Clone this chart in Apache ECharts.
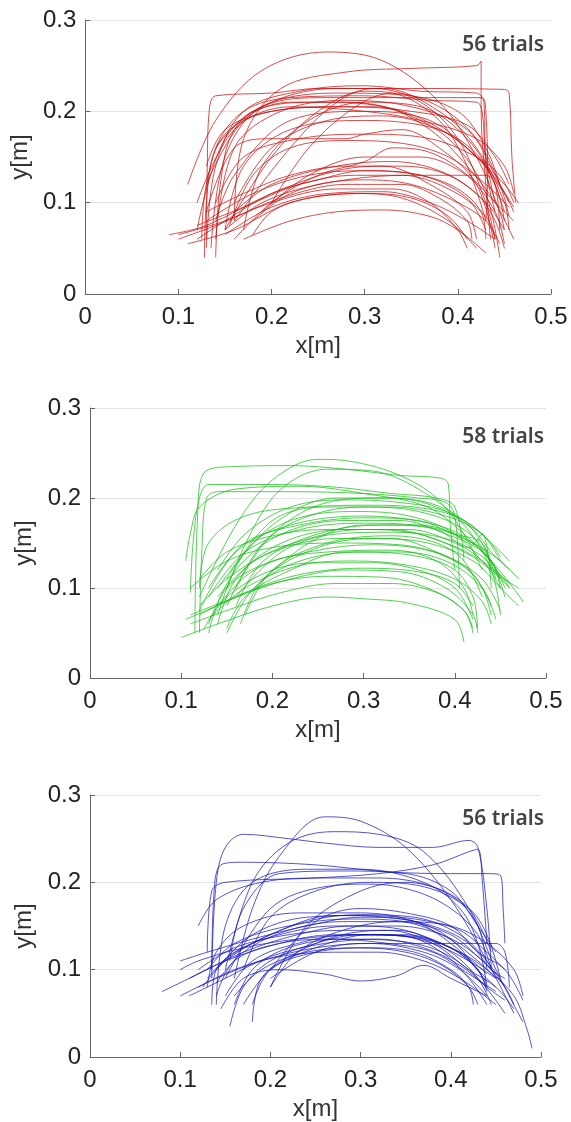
<!DOCTYPE html>
<html><head><meta charset="utf-8">
<script src="https://cdn.jsdelivr.net/npm/echarts@6/dist/echarts.min.js"></script>
<style>html,body{margin:0;padding:0;background:#fff}#c{width:571px;height:1122px}</style>
</head><body><div id="c"></div>
<script>
const xTicks = [0, 0.1, 0.2, 0.3, 0.4, 0.5];
const yTicks = [0, 0.1, 0.2, 0.3];
const panelLabels = ["56 trials", "58 trials", "56 trials"];

const redTrials = [
 [[0.13,0.06],[0.131,0.14],[0.133,0.20],[0.14,0.217],[0.2,0.22],[0.25,0.225],[0.35,0.225],[0.45,0.224],[0.455,0.22],[0.458,0.15],[0.462,0.10]],
 [[0.11,0.12],[0.14,0.19],[0.19,0.245],[0.26,0.265],[0.32,0.255],[0.38,0.21],[0.42,0.15],[0.445,0.09],[0.45,0.07]],
 [[0.16,0.08],[0.17,0.17],[0.21,0.225],[0.28,0.243],[0.35,0.247],[0.42,0.25],[0.425,0.255],[0.425,0.20],[0.43,0.12],[0.435,0.06]],
 [[0.13,0.05],[0.14,0.14],[0.17,0.20],[0.23,0.222],[0.3,0.228],[0.36,0.222],[0.42,0.22],[0.428,0.21],[0.43,0.14],[0.44,0.09]],
 [[0.12,0.07],[0.15,0.17],[0.2,0.21],[0.27,0.225],[0.32,0.225],[0.38,0.2],[0.42,0.16],[0.45,0.1],[0.455,0.07]],
 [[0.135,0.05],[0.15,0.15],[0.19,0.205],[0.26,0.215],[0.33,0.215],[0.425,0.215],[0.43,0.2],[0.432,0.12],[0.43,0.08]],
 [[0.14,0.06],[0.16,0.16],[0.21,0.2],[0.28,0.212],[0.35,0.205],[0.41,0.18],[0.44,0.13],[0.455,0.1]],
 [[0.12,0.10],[0.16,0.18],[0.22,0.205],[0.3,0.2],[0.36,0.19],[0.42,0.17],[0.45,0.14],[0.46,0.11]],
 [[0.13,0.09],[0.16,0.16],[0.2,0.17],[0.28,0.17],[0.3,0.175],[0.34,0.18],[0.38,0.16],[0.42,0.12],[0.44,0.05]],
 [[0.15,0.07],[0.17,0.14],[0.22,0.18],[0.3,0.19],[0.36,0.185],[0.4,0.17],[0.43,0.14],[0.45,0.09]],
 [[0.15,0.07],[0.2,0.15],[0.25,0.2],[0.3,0.222],[0.33,0.22],[0.38,0.19],[0.41,0.14],[0.43,0.08]],
 [[0.16,0.08],[0.22,0.16],[0.27,0.21],[0.31,0.225],[0.36,0.21],[0.4,0.17],[0.43,0.1],[0.44,0.06]],
 [[0.13,0.12],[0.17,0.19],[0.22,0.21],[0.28,0.21],[0.34,0.2],[0.39,0.175],[0.43,0.14],[0.46,0.095]],
 [[0.14,0.08],[0.16,0.13],[0.22,0.19],[0.3,0.2],[0.37,0.19],[0.42,0.15],[0.45,0.12],[0.465,0.1]],
 [[0.09,0.065],[0.13,0.075],[0.2,0.11],[0.27,0.135],[0.32,0.14],[0.37,0.12],[0.41,0.09],[0.42,0.06]],
 [[0.1,0.06],[0.14,0.075],[0.2,0.1],[0.27,0.115],[0.33,0.115],[0.37,0.1],[0.4,0.07],[0.41,0.05]],
 [[0.11,0.055],[0.16,0.07],[0.22,0.1],[0.29,0.11],[0.34,0.105],[0.39,0.08],[0.42,0.05]],
 [[0.17,0.06],[0.22,0.08],[0.27,0.09],[0.32,0.092],[0.37,0.085],[0.4,0.07],[0.43,0.045]],
 [[0.15,0.07],[0.19,0.1],[0.25,0.12],[0.3,0.125],[0.35,0.12],[0.4,0.1],[0.43,0.08],[0.445,0.055]],
 [[0.16,0.09],[0.2,0.12],[0.27,0.14],[0.33,0.145],[0.38,0.135],[0.42,0.11],[0.44,0.08],[0.45,0.05]],
 [[0.12,0.075],[0.17,0.095],[0.23,0.12],[0.29,0.13],[0.34,0.13],[0.39,0.115],[0.43,0.085],[0.44,0.06]],
 [[0.16,0.06],[0.2,0.1],[0.25,0.13],[0.3,0.145],[0.33,0.16],[0.37,0.155],[0.41,0.13],[0.44,0.09],[0.45,0.055]],
 [[0.18,0.065],[0.2,0.09],[0.24,0.105],[0.3,0.11],[0.35,0.105],[0.39,0.085],[0.41,0.06]],
 [[0.13,0.09],[0.17,0.11],[0.22,0.13],[0.28,0.14],[0.34,0.14],[0.39,0.13],[0.43,0.1],[0.45,0.07]],
 [[0.12,0.06],[0.15,0.08],[0.2,0.11],[0.25,0.125],[0.3,0.135],[0.36,0.13],[0.41,0.105],[0.43,0.07]],
 [[0.14,0.16],[0.18,0.2],[0.25,0.21],[0.32,0.205],[0.37,0.18],[0.41,0.14],[0.44,0.1],[0.46,0.06]],
 [[0.13,0.14],[0.15,0.18],[0.2,0.2],[0.27,0.205],[0.31,0.205],[0.36,0.19],[0.4,0.16],[0.43,0.11],[0.445,0.04]],
 [[0.155,0.075],[0.18,0.13],[0.22,0.16],[0.28,0.168],[0.34,0.165],[0.39,0.15],[0.43,0.12],[0.455,0.095]],
 [[0.18,0.08],[0.22,0.11],[0.28,0.125],[0.35,0.13],[0.4,0.13],[0.43,0.13],[0.44,0.12],[0.445,0.07]],
 [[0.14,0.04],[0.145,0.12],[0.16,0.18],[0.2,0.21],[0.27,0.22],[0.34,0.218],[0.4,0.2],[0.43,0.16],[0.445,0.12]],
 [[0.125,0.06],[0.13,0.12],[0.15,0.175],[0.2,0.2],[0.28,0.205],[0.35,0.2],[0.41,0.185],[0.44,0.15],[0.455,0.12]],
 [[0.17,0.07],[0.19,0.14],[0.24,0.19],[0.3,0.21],[0.36,0.205],[0.41,0.17],[0.44,0.12],[0.45,0.08]],
 [[0.14,0.1],[0.17,0.15],[0.23,0.17],[0.3,0.175],[0.37,0.17],[0.42,0.15],[0.445,0.13],[0.46,0.1]],
 [[0.1,0.065],[0.15,0.08],[0.21,0.105],[0.28,0.12],[0.34,0.12],[0.38,0.105],[0.41,0.08],[0.415,0.06]],
 [[0.13,0.08],[0.18,0.11],[0.24,0.13],[0.3,0.135],[0.36,0.13],[0.4,0.115],[0.425,0.09],[0.43,0.06]],
 [[0.15,0.065],[0.2,0.095],[0.26,0.11],[0.32,0.112],[0.37,0.1],[0.41,0.08],[0.44,0.06]],
 [[0.19,0.09],[0.24,0.13],[0.3,0.15],[0.36,0.15],[0.41,0.13],[0.44,0.1],[0.46,0.08]],
 [[0.16,0.1],[0.2,0.16],[0.26,0.19],[0.32,0.195],[0.38,0.18],[0.42,0.15],[0.45,0.11],[0.46,0.09]],
 [[0.128,0.04],[0.13,0.1],[0.14,0.16],[0.17,0.2],[0.22,0.215],[0.3,0.217],[0.37,0.212],[0.42,0.21],[0.426,0.2],[0.43,0.15],[0.44,0.1]],
 [[0.2,0.1],[0.24,0.16],[0.29,0.205],[0.33,0.22],[0.38,0.205],[0.42,0.17],[0.445,0.12],[0.455,0.085]]
];

const greenTrials = [
 [[0.115,0.05],[0.118,0.18],[0.125,0.228],[0.16,0.235],[0.22,0.236],[0.28,0.232],[0.34,0.225],[0.385,0.222],[0.393,0.215],[0.395,0.17],[0.4,0.12]],
 [[0.12,0.09],[0.16,0.17],[0.2,0.22],[0.25,0.243],[0.29,0.24],[0.34,0.225],[0.38,0.2],[0.41,0.16],[0.43,0.12]],
 [[0.11,0.095],[0.113,0.15],[0.12,0.2],[0.13,0.215],[0.2,0.215],[0.27,0.212],[0.33,0.205],[0.38,0.2],[0.4,0.19],[0.41,0.13]],
 [[0.12,0.05],[0.123,0.15],[0.128,0.2],[0.14,0.207],[0.22,0.207],[0.3,0.205],[0.36,0.2],[0.39,0.195],[0.4,0.18],[0.405,0.1]],
 [[0.15,0.1],[0.2,0.2],[0.26,0.232],[0.31,0.23],[0.36,0.21],[0.41,0.17],[0.44,0.12],[0.45,0.07]],
 [[0.105,0.13],[0.11,0.16],[0.12,0.19],[0.16,0.21],[0.23,0.213],[0.3,0.205],[0.37,0.19],[0.41,0.16],[0.44,0.13],[0.455,0.1]],
 [[0.14,0.07],[0.17,0.14],[0.22,0.175],[0.29,0.185],[0.35,0.18],[0.4,0.16],[0.44,0.12],[0.47,0.1]],
 [[0.13,0.06],[0.16,0.12],[0.21,0.16],[0.28,0.175],[0.34,0.175],[0.39,0.16],[0.43,0.14],[0.475,0.085]],
 [[0.15,0.08],[0.19,0.15],[0.24,0.18],[0.3,0.19],[0.36,0.185],[0.41,0.165],[0.44,0.13],[0.455,0.09]],
 [[0.12,0.075],[0.16,0.14],[0.22,0.17],[0.3,0.18],[0.38,0.17],[0.42,0.15],[0.45,0.115],[0.46,0.1]],
 [[0.16,0.1],[0.2,0.16],[0.26,0.195],[0.32,0.2],[0.37,0.195],[0.41,0.175],[0.435,0.14],[0.445,0.11]],
 [[0.14,0.09],[0.18,0.13],[0.24,0.155],[0.3,0.165],[0.36,0.16],[0.41,0.14],[0.44,0.12],[0.46,0.1]],
 [[0.12,0.08],[0.15,0.11],[0.2,0.14],[0.27,0.155],[0.33,0.155],[0.38,0.14],[0.42,0.115],[0.44,0.08]],
 [[0.13,0.065],[0.17,0.1],[0.23,0.125],[0.29,0.13],[0.35,0.125],[0.4,0.11],[0.43,0.085],[0.44,0.06]],
 [[0.105,0.065],[0.15,0.085],[0.2,0.105],[0.26,0.113],[0.32,0.112],[0.37,0.1],[0.41,0.075],[0.42,0.05]],
 [[0.1,0.045],[0.14,0.06],[0.2,0.08],[0.26,0.09],[0.3,0.088],[0.35,0.083],[0.4,0.065],[0.41,0.04]],
 [[0.11,0.07],[0.16,0.09],[0.22,0.11],[0.28,0.12],[0.34,0.118],[0.39,0.1],[0.42,0.07],[0.425,0.05]],
 [[0.15,0.055],[0.17,0.09],[0.22,0.12],[0.28,0.14],[0.34,0.14],[0.39,0.13],[0.43,0.1],[0.445,0.065]],
 [[0.165,0.06],[0.19,0.11],[0.25,0.145],[0.31,0.155],[0.37,0.15],[0.42,0.13],[0.45,0.1],[0.47,0.08]],
 [[0.13,0.1],[0.17,0.15],[0.23,0.17],[0.3,0.178],[0.36,0.175],[0.4,0.16],[0.43,0.15],[0.44,0.12]],
 [[0.14,0.12],[0.17,0.16],[0.22,0.19],[0.28,0.198],[0.34,0.195],[0.39,0.185],[0.43,0.16],[0.45,0.13]],
 [[0.12,0.11],[0.15,0.14],[0.2,0.158],[0.26,0.165],[0.33,0.165],[0.39,0.15],[0.43,0.13],[0.46,0.105]],
 [[0.16,0.08],[0.19,0.13],[0.25,0.16],[0.32,0.17],[0.38,0.165],[0.415,0.145],[0.43,0.16],[0.44,0.1]],
 [[0.15,0.05],[0.18,0.1],[0.23,0.13],[0.3,0.14],[0.36,0.135],[0.4,0.12],[0.42,0.09],[0.425,0.055]],
 [[0.125,0.055],[0.15,0.09],[0.2,0.12],[0.25,0.128],[0.31,0.128],[0.36,0.12],[0.4,0.1],[0.42,0.065]],
 [[0.14,0.1],[0.2,0.17],[0.27,0.2],[0.33,0.2],[0.38,0.19],[0.42,0.165],[0.44,0.14],[0.46,0.12]],
 [[0.18,0.1],[0.24,0.15],[0.3,0.17],[0.36,0.17],[0.41,0.155],[0.44,0.13],[0.45,0.1]],
 [[0.11,0.1],[0.15,0.13],[0.2,0.145],[0.27,0.15],[0.34,0.148],[0.39,0.135],[0.43,0.11],[0.45,0.075]],
 [[0.14,0.06],[0.16,0.11],[0.21,0.15],[0.28,0.165],[0.35,0.165],[0.4,0.15],[0.43,0.13],[0.45,0.1]],
 [[0.13,0.09],[0.17,0.14],[0.23,0.165],[0.3,0.172],[0.37,0.168],[0.42,0.15],[0.45,0.13],[0.47,0.11]],
 [[0.15,0.11],[0.2,0.175],[0.26,0.19],[0.33,0.19],[0.39,0.18],[0.43,0.16],[0.45,0.135]],
 [[0.11,0.06],[0.15,0.075],[0.21,0.095],[0.27,0.105],[0.33,0.105],[0.38,0.095],[0.41,0.075],[0.42,0.055]],
 [[0.12,0.07],[0.17,0.095],[0.23,0.115],[0.3,0.122],[0.36,0.118],[0.4,0.105],[0.42,0.08]],
 [[0.16,0.09],[0.21,0.14],[0.27,0.16],[0.33,0.162],[0.39,0.155],[0.43,0.135],[0.45,0.11]],
 [[0.17,0.07],[0.2,0.12],[0.26,0.15],[0.33,0.158],[0.38,0.15],[0.41,0.13],[0.43,0.09]],
 [[0.12,0.1],[0.13,0.15],[0.17,0.18],[0.24,0.19],[0.31,0.192],[0.37,0.188],[0.41,0.175],[0.44,0.15],[0.46,0.13]],
 [[0.13,0.05],[0.15,0.1],[0.2,0.13],[0.26,0.14],[0.33,0.142],[0.38,0.13],[0.41,0.1],[0.42,0.07]],
 [[0.14,0.08],[0.18,0.12],[0.24,0.14],[0.31,0.148],[0.37,0.142],[0.41,0.125],[0.43,0.1],[0.44,0.07]]
];

const blueTrials = [
 [[0.135,0.1],[0.14,0.2],[0.15,0.24],[0.17,0.255],[0.22,0.25],[0.26,0.245],[0.32,0.24],[0.38,0.24],[0.42,0.248],[0.43,0.24],[0.44,0.17],[0.445,0.1]],
 [[0.16,0.09],[0.18,0.17],[0.21,0.23],[0.26,0.275],[0.3,0.27],[0.35,0.24],[0.4,0.18],[0.44,0.11],[0.47,0.05]],
 [[0.15,0.1],[0.18,0.2],[0.22,0.245],[0.27,0.258],[0.32,0.255],[0.37,0.235],[0.42,0.17],[0.45,0.1],[0.48,0.04]],
 [[0.135,0.09],[0.137,0.18],[0.145,0.22],[0.17,0.223],[0.25,0.22],[0.33,0.212],[0.4,0.21],[0.44,0.21],[0.455,0.208],[0.458,0.17],[0.46,0.13]],
 [[0.13,0.12],[0.135,0.19],[0.15,0.2],[0.25,0.205],[0.32,0.21],[0.38,0.22],[0.42,0.235],[0.43,0.238],[0.435,0.2],[0.44,0.13]],
 [[0.17,0.1],[0.2,0.16],[0.25,0.19],[0.31,0.2],[0.37,0.195],[0.42,0.17],[0.44,0.14],[0.455,0.09]],
 [[0.2,0.08],[0.24,0.15],[0.3,0.19],[0.35,0.2],[0.4,0.185],[0.43,0.15],[0.44,0.1]],
 [[0.155,0.11],[0.17,0.17],[0.21,0.21],[0.28,0.213],[0.35,0.21],[0.4,0.19],[0.43,0.15],[0.45,0.12]],
 [[0.14,0.06],[0.15,0.15],[0.18,0.2],[0.24,0.215],[0.3,0.215],[0.37,0.2],[0.41,0.17],[0.43,0.13],[0.44,0.08]],
 [[0.2,0.09],[0.25,0.12],[0.3,0.13],[0.37,0.13],[0.42,0.13],[0.45,0.13],[0.46,0.12],[0.465,0.08]],
 [[0.08,0.075],[0.12,0.095],[0.17,0.12],[0.23,0.14],[0.29,0.15],[0.35,0.145],[0.4,0.12],[0.43,0.09],[0.445,0.06]],
 [[0.1,0.07],[0.14,0.09],[0.19,0.11],[0.25,0.125],[0.31,0.13],[0.37,0.12],[0.41,0.1],[0.44,0.07]],
 [[0.1,0.11],[0.13,0.12],[0.18,0.135],[0.24,0.15],[0.3,0.16],[0.36,0.155],[0.4,0.135],[0.43,0.1],[0.45,0.08]],
 [[0.12,0.08],[0.16,0.1],[0.21,0.115],[0.27,0.12],[0.32,0.12],[0.37,0.11],[0.41,0.09],[0.45,0.06]],
 [[0.145,0.055],[0.17,0.09],[0.21,0.1],[0.26,0.095],[0.3,0.087],[0.34,0.093],[0.37,0.105],[0.4,0.09],[0.44,0.07]],
 [[0.155,0.035],[0.17,0.08],[0.2,0.11],[0.25,0.13],[0.3,0.14],[0.35,0.138],[0.39,0.12],[0.42,0.09],[0.44,0.06]],
 [[0.18,0.04],[0.19,0.09],[0.23,0.12],[0.28,0.14],[0.33,0.145],[0.38,0.13],[0.42,0.1],[0.45,0.08],[0.47,0.055]],
 [[0.135,0.06],[0.14,0.1],[0.18,0.13],[0.24,0.155],[0.3,0.163],[0.36,0.16],[0.41,0.14],[0.44,0.11],[0.46,0.08]],
 [[0.14,0.085],[0.17,0.12],[0.22,0.145],[0.28,0.155],[0.34,0.155],[0.39,0.14],[0.43,0.11],[0.45,0.09]],
 [[0.12,0.1],[0.16,0.125],[0.22,0.14],[0.28,0.145],[0.34,0.145],[0.39,0.13],[0.42,0.11],[0.44,0.085]],
 [[0.11,0.07],[0.15,0.09],[0.2,0.115],[0.26,0.13],[0.32,0.135],[0.37,0.125],[0.41,0.105],[0.44,0.08],[0.46,0.065]],
 [[0.16,0.07],[0.19,0.1],[0.24,0.12],[0.3,0.125],[0.35,0.12],[0.39,0.105],[0.42,0.08],[0.43,0.06]],
 [[0.125,0.08],[0.15,0.11],[0.2,0.14],[0.27,0.162],[0.33,0.16],[0.38,0.15],[0.42,0.13],[0.445,0.1],[0.46,0.09]],
 [[0.17,0.06],[0.2,0.1],[0.25,0.125],[0.31,0.14],[0.37,0.135],[0.41,0.12],[0.44,0.1],[0.47,0.07],[0.485,0.03],[0.49,0.01]],
 [[0.2,0.1],[0.25,0.155],[0.3,0.17],[0.35,0.165],[0.4,0.15],[0.43,0.12],[0.46,0.1],[0.48,0.065]],
 [[0.13,0.08],[0.14,0.12],[0.17,0.15],[0.23,0.165],[0.3,0.165],[0.36,0.155],[0.4,0.13],[0.43,0.1],[0.44,0.08]],
 [[0.14,0.07],[0.16,0.11],[0.21,0.13],[0.27,0.135],[0.33,0.13],[0.38,0.12],[0.42,0.095],[0.45,0.075]],
 [[0.15,0.09],[0.2,0.17],[0.26,0.195],[0.31,0.198],[0.36,0.19],[0.4,0.17],[0.43,0.14],[0.445,0.1]],
 [[0.13,0.1],[0.16,0.13],[0.22,0.15],[0.29,0.158],[0.35,0.155],[0.4,0.14],[0.43,0.115],[0.45,0.095]],
 [[0.11,0.09],[0.15,0.11],[0.21,0.13],[0.27,0.14],[0.33,0.14],[0.38,0.13],[0.42,0.11],[0.45,0.09]],
 [[0.15,0.07],[0.18,0.11],[0.23,0.13],[0.29,0.14],[0.35,0.14],[0.4,0.125],[0.43,0.1],[0.44,0.075]],
 [[0.18,0.06],[0.2,0.1],[0.25,0.12],[0.31,0.125],[0.36,0.12],[0.4,0.1],[0.42,0.08],[0.425,0.06]],
 [[0.14,0.1],[0.18,0.14],[0.24,0.16],[0.3,0.162],[0.36,0.158],[0.41,0.145],[0.44,0.12],[0.46,0.1]],
 [[0.12,0.15],[0.14,0.18],[0.19,0.2],[0.26,0.205],[0.32,0.205],[0.38,0.195],[0.42,0.17],[0.445,0.12]],
 [[0.16,0.06],[0.18,0.1],[0.22,0.125],[0.28,0.135],[0.34,0.133],[0.39,0.12],[0.43,0.09],[0.46,0.05]],
 [[0.13,0.09],[0.16,0.12],[0.21,0.14],[0.27,0.15],[0.34,0.15],[0.39,0.14],[0.43,0.115],[0.46,0.08],[0.47,0.06]],
 [[0.1,0.1],[0.12,0.11],[0.17,0.125],[0.23,0.135],[0.3,0.14],[0.36,0.138],[0.41,0.12],[0.44,0.095]],
 [[0.2,0.08],[0.23,0.12],[0.28,0.145],[0.34,0.155],[0.4,0.15],[0.44,0.13],[0.47,0.1],[0.48,0.07]]
];

const panels = [
  {trials: redTrials, color: 'rgba(200,10,10,0.72)', grid: {left: 83, right: 20, top: 20, height: 274}, label: panelLabels[0], labelTop: 30, yGap: 35},
  {trials: greenTrials, color: 'rgba(20,190,20,0.72)', grid: {left: 90, right: 25, top: 408, height: 270}, label: panelLabels[1], labelTop: 422, yGap: 34},
  {trials: blueTrials, color: 'rgba(20,20,190,0.72)', grid: {left: 90, right: 30, top: 795, height: 265}, label: panelLabels[2], labelTop: 804, yGap: 32}
];

const chart = echarts.init(document.getElementById('c'), null, {renderer: 'canvas'});
const font = 'Liberation Sans, Arial, sans-serif';
const option = {
  animation: false,
  backgroundColor: '#fff',
  grid: panels.map(p => Object.assign({containLabel: false}, p.grid)),
  title: panels.map(p => ({
    text: p.label, right: 22, top: p.labelTop,
    textStyle: {fontFamily: 'Noto Sans', fontSize: 21, fontWeight: 600, color: '#444'}
  })),
  xAxis: panels.map((p, i) => ({
    type: 'value', gridIndex: i, min: xTicks[0], max: xTicks[xTicks.length - 1], interval: 0.1,
    name: 'x[m]', nameLocation: 'middle', nameGap: 40,
    nameTextStyle: {fontFamily: font, fontSize: 24, color: '#333'},
    axisLine: {show: true, lineStyle: {color: '#666', width: 1}},
    axisTick: {show: true, inside: true, length: 5, lineStyle: {color: '#666'}},
    splitLine: {show: false},
    axisLabel: {fontFamily: font, fontSize: 24, color: '#222', margin: 11,
      formatter: v => String(Math.round(v * 10) / 10)}
  })),
  yAxis: panels.map((p, i) => ({
    type: 'value', gridIndex: i, min: yTicks[0], max: yTicks[yTicks.length - 1], interval: 0.1,
    name: 'y[m]', nameLocation: 'middle', nameGap: p.yGap, nameRotate: 90,
    nameTextStyle: {fontFamily: font, fontSize: 24, color: '#333'},
    axisLine: {show: true, lineStyle: {color: '#666', width: 1}},
    axisTick: {show: true, inside: true, length: 5, lineStyle: {color: '#666'}},
    splitLine: {show: true, lineStyle: {color: '#e4e4e4', width: 1}},
    axisLabel: {fontFamily: font, fontSize: 24, color: '#222', margin: 9,
      formatter: v => String(Math.round(v * 10) / 10)}
  })),
  series: []
};
panels.forEach((p, i) => {
  p.trials.forEach(tr => {
    option.series.push({
      type: 'line', xAxisIndex: i, yAxisIndex: i, data: tr,
      smooth: 0.35, showSymbol: false, silent: true,
      lineStyle: {color: p.color, width: 1}
    });
  });
});
chart.setOption(option);
</script>
</body></html>
